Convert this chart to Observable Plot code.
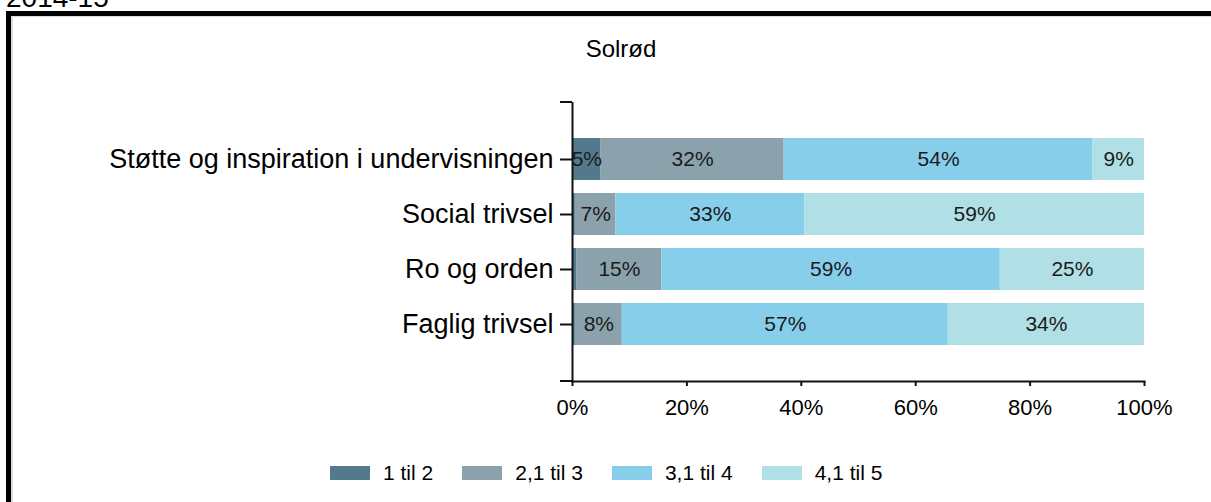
<!DOCTYPE html>
<html><head><meta charset="utf-8">
<script src="https://cdn.jsdelivr.net/npm/d3@7"></script>
<script src="https://cdn.jsdelivr.net/npm/@observablehq/plot@0.6"></script>
<style>
body{margin:0;background:#fff;font-family:"Liberation Sans",Arial,sans-serif;color:#000;}
#wrap{position:relative;width:1211px;height:502px;overflow:hidden;background:#fff;}
#year{position:absolute;left:6px;top:-16px;font-size:28px;line-height:28px;white-space:nowrap;}
#box{position:absolute;left:6px;top:11px;width:1400px;height:600px;border-left:5px solid #000;border-top:5px solid #000;}
#box::after{content:"";position:absolute;left:0;top:0;right:0;bottom:0;border-left:2px solid #dcdcdc;border-top:1px solid #dcdcdc;}
#title{position:absolute;left:0;width:1242px;text-align:center;top:37px;font-size:24px;line-height:24px;}
#chart{position:absolute;left:0;top:0;}
#legend{position:absolute;top:462px;left:330px;display:flex;align-items:center;font-size:21px;line-height:21px;white-space:nowrap;}
.item{display:flex;align-items:center;margin-right:29px;}
.sw{width:40px;height:14px;margin-right:13px;}
</style></head><body>
<div id="wrap">
 <div id="year">2014-15</div>
 <div id="box"></div>
 <div id="title">Solrød</div>
 <div id="chart"></div>
 <div id="legend"></div>
</div>
<script>
const categories = ["Støtte og inspiration i undervisningen", "Social trivsel", "Ro og orden", "Faglig trivsel"];
const series = ["1 til 2", "2,1 til 3", "3,1 til 4", "4,1 til 5"];
const colors = ["#527a8c", "#8ba2ad", "#87ceeb", "#b0e0e6"];
const v1 = [5, 0.5, 0.8, 0.5];
const v2 = [32, 7.1, 14.8, 8.2];
const v3 = [54, 33, 59.2, 57];
const v4 = [9, 59.4, 25.2, 34.3];
const xTicks = [0, 20, 40, 60, 80, 100];

const seriesValues = [v1, v2, v3, v4];
const rows = [];
categories.forEach((c, i) => seriesValues.forEach((arr, j) => rows.push({cat: c, s: series[j], v: arr[i]})));

function caps(index, scales, values, dimensions) {
  const {marginLeft, marginTop, height, marginBottom} = dimensions;
  const g = d3.create("svg:g").attr("stroke", "#111").attr("stroke-width", 2);
  g.append("line").attr("x1", marginLeft - 12).attr("x2", marginLeft).attr("y1", marginTop).attr("y2", marginTop);
  g.append("line").attr("x1", marginLeft - 12).attr("x2", marginLeft).attr("y1", height - marginBottom).attr("y2", height - marginBottom);
  return g.node();
}

const chart = Plot.plot({
  width: 1211, height: 445,
  marginTop: 102, marginBottom: 64, marginLeft: 572, marginRight: 67,
  style: {fontFamily: "'Liberation Sans', Arial, sans-serif", background: "transparent", overflow: "visible", color: "#000"},
  x: {domain: [0, 100], ticks: xTicks, tickFormat: d => d + "%", label: null},
  y: {domain: categories, paddingInner: 0.23, paddingOuter: 0.615, label: null},
  color: {domain: series, range: colors},
  marks: [
    Plot.barX(rows, Plot.stackX({x: "v", y: "cat", fill: "s"})),
    Plot.text(rows, Plot.stackX({x: "v", y: "cat", z: "s", text: d => d.v >= 3 ? Math.round(d.v) + "%" : "", fill: "#1a1a1a", fontSize: 21})),
    Plot.ruleX([0], {stroke: "#111", strokeWidth: 2}),
    Plot.frame({anchor: "bottom", stroke: "#111", strokeWidth: 2}),
    caps,
    Plot.axisY({tickSize: 12, tickPadding: 7, fontSize: 27, strokeWidth: 2, stroke: "#111"}),
    Plot.axisX({ticks: xTicks, tickFormat: d => d + "%", tickSize: 5, tickPadding: 13, fontSize: 22, strokeWidth: 2, stroke: "#111"})
  ]
});
document.getElementById("chart").appendChild(chart);

const lg = d3.select("#legend");
series.forEach((s, j) => {
  const it = lg.append("div").attr("class", "item");
  it.append("div").attr("class", "sw").style("background", colors[j]);
  it.append("span").text(s);
});
</script>
</body></html>
